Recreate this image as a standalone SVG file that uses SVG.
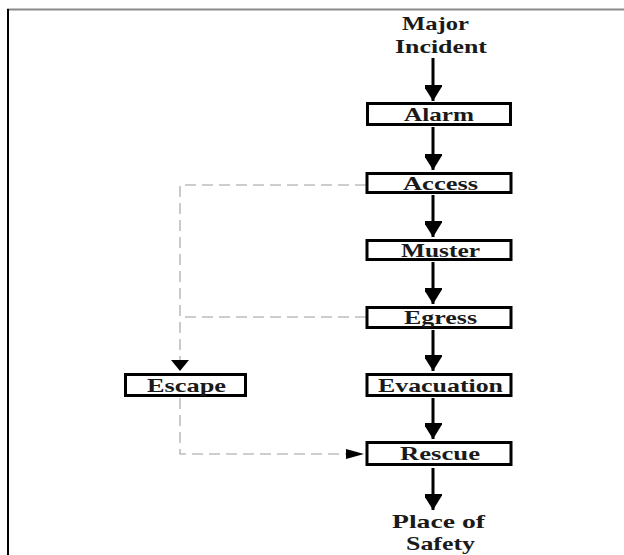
<svg xmlns="http://www.w3.org/2000/svg" width="624" height="555" viewBox="0 0 624 555">
<style>
.box{fill:#fff;stroke:#000;stroke-width:3}
.lbl{font-family:"Liberation Serif","Times New Roman",serif;font-size:19px;font-weight:bold;fill:#1a1a1a}
.solid{stroke:#000;stroke-width:3;fill:none}
.dash{stroke:#bdbdbd;stroke-width:1.6;stroke-dasharray:11 6;fill:none}
</style>
<defs>
<marker id="ah" markerUnits="userSpaceOnUse" markerWidth="22" markerHeight="17" refX="16" refY="8.5" orient="auto">
<path d="M0,-1.5 L16,8.5 L0,18.5 Z" fill="#000"/>
</marker>
</defs>
<rect x="0" y="0" width="624" height="555" fill="#fff"/>
<line x1="7" y1="9.5" x2="624" y2="9.5" stroke="#8a8a8a" stroke-width="2"/>
<line x1="8" y1="9" x2="8" y2="555" stroke="#000" stroke-width="2"/>
<g id="connectors">
<path class="dash" d="M366,185 H180 V360"/>
<path class="dash" d="M366,317 H180"/>
<path d="M171,360 L189,360 L180,371 Z" fill="#000"/>
<path class="dash" d="M180,398 V454 H346"/>
<path d="M346,449 L364,454 L346,459 Z" fill="#000"/>
<line class="solid" x1="433" y1="58" x2="433" y2="101" marker-end="url(#ah)"/>
<line class="solid" x1="433" y1="127" x2="433" y2="170" marker-end="url(#ah)"/>
<line class="solid" x1="433" y1="195" x2="433" y2="237" marker-end="url(#ah)"/>
<line class="solid" x1="433" y1="262" x2="433" y2="304" marker-end="url(#ah)"/>
<line class="solid" x1="433" y1="330" x2="433" y2="371" marker-end="url(#ah)"/>
<line class="solid" x1="433" y1="398" x2="433" y2="439" marker-end="url(#ah)"/>
<line class="solid" x1="433" y1="468" x2="433" y2="510" marker-end="url(#ah)"/>
</g>
<g id="major">
<text class="lbl" x="435.5" y="30" text-anchor="middle" textLength="67" lengthAdjust="spacingAndGlyphs">Major</text>
<text class="lbl" x="441" y="53" text-anchor="middle" textLength="92" lengthAdjust="spacingAndGlyphs">Incident</text>
</g>
<g id="alarm">
<rect class="box" x="367.5" y="103.5" width="143" height="21"/>
<text class="lbl" x="439" y="121" text-anchor="middle" textLength="70" lengthAdjust="spacingAndGlyphs">Alarm</text>
</g>
<g id="access">
<rect class="box" x="367" y="173.5" width="144" height="19"/>
<text class="lbl" x="440.5" y="190" text-anchor="middle" textLength="75" lengthAdjust="spacingAndGlyphs">Access</text>
</g>
<g id="muster">
<rect class="box" x="367" y="240.5" width="144" height="19"/>
<text class="lbl" x="440.5" y="257" text-anchor="middle" textLength="79" lengthAdjust="spacingAndGlyphs">Muster</text>
</g>
<g id="egress">
<rect class="box" x="367" y="307.5" width="144" height="20"/>
<text class="lbl" x="440.5" y="324" text-anchor="middle" textLength="73" lengthAdjust="spacingAndGlyphs">Egress</text>
</g>
<g id="evacuation">
<rect class="box" x="367" y="374.5" width="144" height="21"/>
<text class="lbl" x="440.5" y="392" text-anchor="middle" textLength="125" lengthAdjust="spacingAndGlyphs">Evacuation</text>
</g>
<g id="escape">
<rect class="box" x="125.5" y="374.5" width="120" height="21"/>
<text class="lbl" x="186.5" y="392" text-anchor="middle" textLength="79" lengthAdjust="spacingAndGlyphs">Escape</text>
</g>
<g id="rescue">
<rect class="box" x="367" y="442.5" width="144" height="22"/>
<text class="lbl" x="440" y="460" text-anchor="middle" textLength="80" lengthAdjust="spacingAndGlyphs">Rescue</text>
</g>
<g id="place">
<text class="lbl" x="438.5" y="528" text-anchor="middle" textLength="93" lengthAdjust="spacingAndGlyphs">Place of</text>
<text class="lbl" x="440.5" y="550" text-anchor="middle" textLength="69" lengthAdjust="spacingAndGlyphs">Safety</text>
</g>
</svg>
